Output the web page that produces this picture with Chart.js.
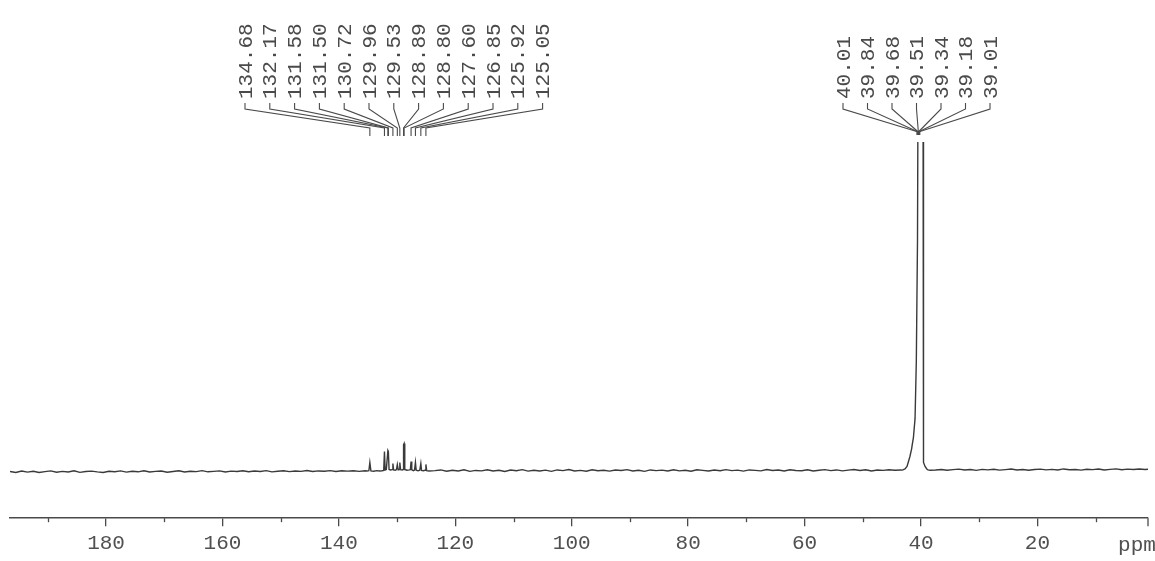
<!DOCTYPE html>
<html>
<head>
<meta charset="utf-8">
<script src="https://cdn.jsdelivr.net/npm/chart.js@4.4.1/dist/chart.umd.min.js"></script>
<style>
  body { margin: 0; background: #fff; }
  #wrap { width: 1155px; height: 561px; }
</style>
</head>
<body>
<div id="wrap"><canvas id="nmrChart" width="1155" height="561"></canvas></div>
<script>
// 13C spectrum: [ppm, height]
const baselineLeft = [
  [196.5,-1.0],[195.5,-2.0],[194.5,-0.6],[193.5,-1.7],[192.5,-0.9],[191.5,-2.1],[190.5,-1.2],[189.5,-0.5],[188.5,-1.8],[187.5,-1.0],
  [186.5,-1.6],[185.5,-0.4],[184.5,-1.9],[183.5,-1.1],[182.5,-0.7],[181.5,-1.5],[180.5,-2.0],[179.5,-0.8],[178.5,-1.3],[177.5,-0.5],
  [176.5,-1.7],[175.5,-0.9],[174.5,-1.4],[173.5,-0.3],[172.5,-1.6],[171.5,-1.0],[170.5,-0.6],[169.5,-1.8],[168.5,-1.1],[167.5,-0.4],
  [166.5,-1.5],[165.5,-0.8],[164.5,-1.2],[163.5,-0.2],[162.5,-1.4],[161.5,-0.9],[160.5,-0.5],[159.5,-1.6],[158.5,-0.7],[157.5,-1.1],
  [156.5,-0.3],[155.5,-1.3],[154.5,-0.6],[153.5,-1.0],[152.5,-0.2],[151.5,-1.4],[150.5,-0.8],[149.5,-0.4],[148.5,-1.2],[147.5,-0.6],
  [146.5,-0.9],[145.5,-0.1],[144.5,-1.1],[143.5,-0.5],[142.5,-0.8],[141.5,-0.2],[140.5,-1.0],[139.5,-0.4],[138.5,-0.7],[137.5,-0.3],
  [136.5,-0.9],[135.5,-0.4]
];
const aromaticRegion = [
  [135.2,-0.6],[134.85,-0.3],[134.68,8],[134.5,-0.4],[134.0,-0.8],[133.5,-0.2],[133.0,-0.6],[132.6,-0.3],
  [132.3,0],[132.17,19],[132.05,0.5],[131.85,1],[131.58,20],[131.5,19],[131.38,1],[131.1,0.5],[130.85,0.8],
  [130.72,7],[130.6,0.6],[130.3,0.2],[130.1,0.8],[129.96,6],[129.8,0.6],[129.65,0.9],[129.53,8],[129.4,0.8],
  [129.1,0.5],[128.97,1],[128.89,26],[128.8,27],[128.68,1],[128.3,0.2],[127.9,0.5],[127.72,0.8],[127.6,9],
  [127.48,0.6],[127.2,-0.2],[127.0,0.4],[126.85,8],[126.72,0.2],[126.4,-0.4],[126.1,0.3],[125.92,7],[125.8,0.1],
  [125.5,-0.3],[125.2,0.2],[125.05,6],[124.92,-0.2],[124.5,-0.6]
];
const baselineMiddle = [
  [123.5,-0.2],[122.5,0.5],[121.5,-0.8],[120.5,0.1],[119.5,-0.5],[118.5,0.6],[117.5,-0.9],[116.5,0.0],[115.5,-0.4],[114.5,0.7],
  [113.5,-0.6],[112.5,0.2],[111.5,-1.0],[110.5,0.4],[109.5,-0.3],[108.5,0.8],[107.5,-0.7],[106.5,0.1],[105.5,-0.5],[104.5,0.3],
  [103.5,-0.9],[102.5,0.5],[101.5,-0.2],[100.5,0.9],[99.5,-0.6],[98.5,0.0],[97.5,-0.8],[96.5,0.6],[95.5,-0.3],[94.5,0.2],
  [93.5,-0.7],[92.5,0.4],[91.5,-0.1],[90.5,0.8],[89.5,-0.5],[88.5,0.1],[87.5,-0.9],[86.5,0.5],[85.5,-0.2],[84.5,0.3],
  [83.5,-0.6],[82.5,0.7],[81.5,-0.4],[80.5,0.2],[79.5,-0.8],[78.5,0.6],[77.5,0.0],[76.5,-0.5],[75.5,0.4],[74.5,-0.3],
  [73.5,0.8],[72.5,-0.2],[71.5,0.3],[70.5,-0.7],[69.5,0.5],[68.5,0.1],[67.5,-0.4],[66.5,0.9],[65.5,-0.1],[64.5,0.4],
  [63.5,-0.5],[62.5,0.6],[61.5,0.0],[60.5,-0.3],[59.5,0.7],[58.5,-0.6],[57.5,0.2],[56.5,0.8],[55.5,-0.2],[54.5,0.5],
  [53.5,-0.4],[52.5,0.3],[51.5,0.9],[50.5,-0.1],[49.5,0.6],[48.5,-0.5],[47.5,0.4],[46.5,0.1],[45.5,0.7],[44.5,0.2],
  [43.5,0.5]
];
const solventRegion = [
  [43.2,0.3],[42.75,1.5],[42.4,4],[42.2,8],[41.9,14],[41.6,22],[41.5,26],[41.3,33],[41.02,52],[40.8,110],
  [40.6,230],[40.5,400],[40.07,3000],[39.65,400],[39.62,60],[39.58,20],[39.5,8],[39.3,4],[39.0,1.5],[38.8,0.6],
  [38.4,0.2]
];
const baselineRight = [
  [37.5,0.4],[36.5,1.0],[35.5,0.2],[34.5,0.8],[33.5,1.3],[32.5,0.5],[31.5,0.9],[30.5,0.1],[29.5,1.1],[28.5,0.6],
  [27.5,1.2],[26.5,0.3],[25.5,0.8],[24.5,1.4],[23.5,0.5],[22.5,1.0],[21.5,0.2],[20.5,0.9],[19.5,1.3],[18.5,0.6],
  [17.5,1.1],[16.5,0.4],[15.5,1.5],[14.5,0.7],[13.5,1.0],[12.5,0.3],[11.5,1.2],[10.5,0.8],[9.5,1.4],[8.5,0.5],
  [7.5,1.1],[6.5,1.6],[5.5,0.7],[4.5,1.3],[3.5,0.9],[2.5,1.5],[1.5,1.0],[1.0,1.2]
];

// peak annotations
const aromaticShifts = [134.68, 132.17, 131.58, 131.50, 130.72, 129.96, 129.53, 128.89, 128.80, 127.60, 126.85, 125.92, 125.05];
const solventShifts = [40.01, 39.84, 39.68, 39.51, 39.34, 39.18, 39.01];
const solventMarkPpm = 40.45;

// axis
const majorTicks = [180, 160, 140, 120, 100, 80, 60, 40, 20];
const minorTicks = [190, 170, 150, 130, 110, 90, 70, 50, 30, 10];
const axisMin = 1.0, axisMax = 196.5;

const spectrum = [].concat(baselineLeft, aromaticRegion, baselineMiddle, solventRegion, baselineRight)
  .map(p => ({ x: p[0], y: p[1] }));

const inkColor = '#4a4a4a';
const monoFont = '"Liberation Mono", "DejaVu Sans Mono", monospace';

const annotationPlugin = {
  id: 'nmrAnnotations',
  afterDraw(chart) {
    const ctx = chart.ctx;
    const xs = chart.scales.x;
    const area = chart.chartArea;
    const axisY = area.bottom;

    ctx.save();
    ctx.strokeStyle = inkColor;
    ctx.fillStyle = inkColor;
    ctx.lineWidth = 1.3;

    // minor ticks + end tick
    minorTicks.forEach(v => {
      const x = Math.round(xs.getPixelForValue(v)) + 0.5;
      ctx.beginPath(); ctx.moveTo(x, axisY); ctx.lineTo(x, axisY + 4); ctx.stroke();
    });
    ctx.beginPath(); ctx.moveTo(area.right, axisY); ctx.lineTo(area.right, axisY + 8); ctx.stroke();

    ctx.font = '21px ' + monoFont;
    ctx.fillStyle = '#505050';
    ctx.textAlign = 'center';
    ctx.textBaseline = 'middle';
    ctx.fillText('ppm', 1137, axisY + 27);
    ctx.fillStyle = inkColor;

    // peak labels
    const textBottom = area.top - 43;
    function drawLabel(val, x) {
      ctx.save();
      ctx.translate(x, textBottom);
      ctx.rotate(-Math.PI / 2);
      ctx.textAlign = 'left';
      ctx.textBaseline = 'middle';
      ctx.fillText(val.toFixed(2), 0, 1);
      ctx.restore();
    }

    ctx.lineWidth = 1.1;
    aromaticShifts.forEach((s, i) => {
      const xl = 245 + i * 24.8;
      const xp = xs.getPixelForValue(s);
      drawLabel(s, xl);
      ctx.beginPath();
      ctx.moveTo(xl, textBottom + 4);
      ctx.lineTo(xl, textBottom + 10);
      ctx.lineTo(xp, area.top - 14);
      ctx.lineTo(xp, area.top - 6);
      ctx.stroke();
    });

    const xm = xs.getPixelForValue(solventMarkPpm);
    solventShifts.forEach((s, i) => {
      const xl = 843 + i * 24.5;
      drawLabel(s, xl);
      ctx.beginPath();
      ctx.moveTo(xl, textBottom + 4);
      ctx.lineTo(xl, textBottom + 10);
      ctx.lineTo(xm, area.top - 10);
      ctx.stroke();
    });
    ctx.fillRect(xm - 2, area.top - 11, 4, 4);
    ctx.restore();
  }
};

new Chart(document.getElementById('nmrChart'), {
  type: 'line',
  data: {
    datasets: [{
      data: spectrum,
      borderColor: '#3a3a3a',
      borderWidth: 1.4,
      pointRadius: 0,
      tension: 0,
      fill: false
    }]
  },
  options: {
    responsive: false,
    animation: false,
    layout: { padding: { top: 142, left: 10, right: 7, bottom: 0 } },
    plugins: { legend: { display: false }, tooltip: { enabled: false } },
    scales: {
      x: {
        type: 'linear',
        reverse: true,
        min: axisMin,
        max: axisMax,
        afterBuildTicks: scale => { scale.ticks = majorTicks.map(v => ({ value: v })); },
        grid: { drawOnChartArea: false, drawTicks: true, tickLength: 8, color: inkColor, lineWidth: 1.3 },
        border: { display: true, color: inkColor, width: 1.5 },
        ticks: {
          autoSkip: false,
          maxRotation: 0,
          padding: 9,
          color: '#505050',
          font: { family: monoFont, size: 21, lineHeight: 0.8 },
          callback: v => String(v)
        }
      },
      y: { display: false, min: -48, max: 330 }
    }
  },
  plugins: [annotationPlugin]
});
</script>
</body>
</html>
